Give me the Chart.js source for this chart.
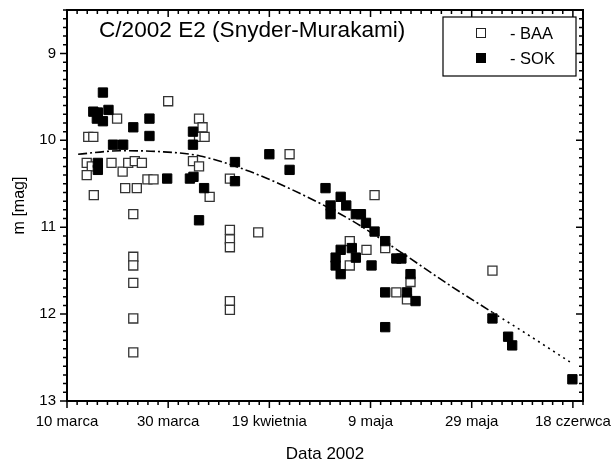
<!DOCTYPE html>
<html>
<head>
<meta charset="utf-8">
<script src="https://cdn.jsdelivr.net/npm/chart.js@4/dist/chart.umd.min.js"></script>
<style>
  html, body { margin: 0; padding: 0; background: #fff; }
  #wrap { width: 611px; height: 463px; }
</style>
</head>
<body>
<div id="wrap"><canvas id="chart" width="611" height="463"></canvas></div>
<script>
// days counted from 10 March 2002
const xTickDays = [0, 20, 40, 60, 80, 100];
const xTickLabels = ['10 marca', '30 marca', '19 kwietnia', '9 maja', '29 maja', '18 czerwca'];
const yTicks = [9, 10, 11, 12, 13];

// BAA observations (open squares)
const baaDays = [4.2, 5.2, 3.9, 4.9, 3.9, 5.3, 8.8, 9.9, 11.0, 12.1, 13.4, 14.8, 11.5, 13.8, 15.9, 17.1,
  13.1, 13.1, 13.1, 13.1, 13.1, 13.1, 20.0, 26.1, 26.8, 26.1, 27.2, 24.9, 26.1, 28.2,
  32.2, 32.2, 32.2, 32.2, 32.2, 32.2, 37.8, 44.0, 60.8, 55.9, 59.2, 55.9, 62.9, 67.9, 65.1, 67.2, 84.1];
const baaMag = [9.96, 9.96, 10.26, 10.30, 10.40, 10.63, 10.26, 9.75, 10.36, 10.26, 10.24, 10.26, 10.55, 10.55, 10.45, 10.45,
  10.85, 11.34, 11.44, 11.64, 12.05, 12.44, 9.55, 9.75, 9.85, 9.96, 9.96, 10.24, 10.30, 10.65,
  10.44, 11.03, 11.14, 11.23, 11.85, 11.95, 11.06, 10.16, 10.63, 11.16, 11.26, 11.44, 11.24, 11.63, 11.75, 11.83, 11.50];

// SOK observations (filled squares)
const sokDays = [7.1, 5.2, 6.1, 8.2, 5.9, 7.1, 16.3, 13.1, 16.3, 9.1, 11.1, 6.1, 6.1, 19.8, 24.3, 25.0,
  24.9, 24.9, 27.1, 26.1, 33.2, 33.2, 40.0, 44.0, 51.1, 52.1, 52.1, 54.1, 55.2, 57.1, 58.1, 59.1,
  60.8, 62.9, 54.1, 56.3, 53.1, 53.1, 57.1, 60.2, 54.1, 65.1, 66.1, 67.9, 62.9, 67.2, 68.9, 62.9,
  84.1, 87.2, 88.0, 99.9];
const sokMag = [9.45, 9.67, 9.68, 9.65, 9.75, 9.78, 9.75, 9.85, 9.95, 10.05, 10.05, 10.26, 10.34, 10.44, 10.44, 10.42,
  9.90, 10.05, 10.55, 10.92, 10.25, 10.47, 10.16, 10.34, 10.55, 10.75, 10.85, 10.65, 10.75, 10.85, 10.85, 10.95,
  11.05, 11.16, 11.26, 11.24, 11.35, 11.44, 11.35, 11.44, 11.54, 11.36, 11.36, 11.54, 11.75, 11.75, 11.85, 12.15,
  12.05, 12.26, 12.36, 12.75];

// fitted light curve (dash-dot part, then dotted extrapolation)
const fitDays = [2.2, 10.5, 18.4, 26.3, 36.2, 46.0, 55.9, 65.8, 75.7, 84.1];
const fitMag = [10.16, 10.12, 10.13, 10.18, 10.36, 10.61, 10.91, 11.28, 11.67, 11.98];
const tailDays = [84.1, 92.0, 99.4];
const tailMag = [11.98, 12.27, 12.55];

const toXY = (xs, ys) => xs.map((v, i) => ({ x: v, y: ys[i] }));

const FONT = '"Liberation Sans", Arial, sans-serif';
const X_MIN = 0, X_MAX = 102, Y_MIN = 8.5, Y_MAX = 13;

// frame, mirrored minor/major ticks, title, legend, axis titles
const decorations = {
  id: 'decorations',
  afterDraw(chart) {
    const { ctx, chartArea: a, scales: { x, y } } = chart;
    ctx.save();
    ctx.strokeStyle = '#000';
    ctx.lineWidth = 1.5;
    ctx.beginPath();
    for (let d = X_MIN; d <= X_MAX; d += 2) {
      const px = x.getPixelForValue(d);
      const len = d % 20 === 0 ? 7 : 4;
      ctx.moveTo(px, a.bottom); ctx.lineTo(px, a.bottom + len);
      ctx.moveTo(px, a.top); ctx.lineTo(px, a.top + len);
    }
    for (let i = Y_MIN * 10; i <= Y_MAX * 10; i++) {
      const py = y.getPixelForValue(i / 10);
      const len = i % 10 === 0 ? 7 : 4;
      ctx.moveTo(a.left, py); ctx.lineTo(a.left - len, py);
      ctx.moveTo(a.right, py); ctx.lineTo(a.right - len, py);
    }
    ctx.stroke();
    ctx.lineWidth = 2;
    ctx.strokeRect(a.left, a.top, a.right - a.left, a.bottom - a.top);

    // title inside the plot
    ctx.fillStyle = '#000';
    ctx.font = '22.6px ' + FONT;
    ctx.textBaseline = 'alphabetic';
    ctx.textAlign = 'left';
    ctx.fillText('C/2002 E2 (Snyder-Murakami)', 99, 37);

    // legend box
    ctx.fillStyle = '#fff';
    ctx.fillRect(443, 17, 133, 59);
    ctx.lineWidth = 1.2;
    ctx.strokeRect(443, 17, 133, 59);
    ctx.lineWidth = 1;
    ctx.strokeStyle = '#222';
    ctx.strokeRect(476.5, 28.5, 9, 9);
    ctx.fillStyle = '#000';
    ctx.fillRect(476, 53, 10, 10);
    ctx.font = '16.5px ' + FONT;
    ctx.fillText('- BAA', 510, 39);
    ctx.fillText('- SOK', 510, 64);

    // axis titles
    ctx.textAlign = 'center';
    ctx.font = '17px ' + FONT;
    ctx.fillText('Data 2002', (a.left + a.right) / 2, 459);
    ctx.translate(24, (a.top + a.bottom) / 2);
    ctx.rotate(-Math.PI / 2);
    ctx.font = '16px ' + FONT;
    ctx.fillText('m [mag]', 0, 0);
    ctx.restore();
  }
};

new Chart(document.getElementById('chart'), {
  type: 'scatter',
  data: {
    datasets: [
      {
        label: 'BAA',
        data: toXY(baaDays, baaMag),
        pointStyle: 'rect',
        pointRadius: 6.4,
        pointBackgroundColor: '#fff',
        pointBorderColor: '#333',
        pointBorderWidth: 1.3,
        order: 2
      },
      {
        label: 'SOK',
        data: toXY(sokDays, sokMag),
        pointStyle: 'rect',
        pointRadius: 6.6,
        pointBackgroundColor: '#000',
        pointBorderColor: '#000',
        pointBorderWidth: 1,
        order: 1
      },
      {
        label: 'fit',
        data: toXY(fitDays, fitMag),
        showLine: true,
        pointRadius: 0,
        borderColor: '#000',
        borderWidth: 1.6,
        borderDash: [9, 3, 2, 3],
        cubicInterpolationMode: 'monotone',
        order: 3
      },
      {
        label: 'fit extrapolated',
        data: toXY(tailDays, tailMag),
        showLine: true,
        pointRadius: 0,
        borderColor: '#000',
        borderWidth: 1.6,
        borderDash: [2, 4],
        cubicInterpolationMode: 'monotone',
        order: 3
      }
    ]
  },
  options: {
    responsive: false,
    animation: false,
    layout: { padding: { left: 0, right: 28, top: 10, bottom: 0 } },
    plugins: { legend: { display: false }, tooltip: { enabled: false } },
    scales: {
      x: {
        type: 'linear',
        min: X_MIN,
        max: X_MAX,
        border: { display: false },
        grid: { display: false, drawTicks: false },
        afterBuildTicks: s => { s.ticks = xTickDays.map(v => ({ value: v })); },
        afterFit: s => { s.height = 62; s.paddingLeft = 0; s.paddingRight = 0; },
        ticks: {
          padding: 12,
          maxRotation: 0,
          autoSkip: false,
          color: '#000',
          font: { family: FONT, size: 15 },
          callback: v => xTickLabels[xTickDays.indexOf(v)]
        }
      },
      y: {
        type: 'linear',
        reverse: true,
        min: Y_MIN,
        max: Y_MAX,
        border: { display: false },
        grid: { display: false, drawTicks: false },
        afterBuildTicks: s => { s.ticks = yTicks.map(v => ({ value: v })); },
        afterFit: s => { s.width = 67; s.paddingTop = 0; s.paddingBottom = 0; },
        ticks: {
          padding: 11,
          color: '#000',
          font: { family: FONT, size: 15 }
        }
      }
    }
  },
  plugins: [decorations]
});
</script>
</body>
</html>
